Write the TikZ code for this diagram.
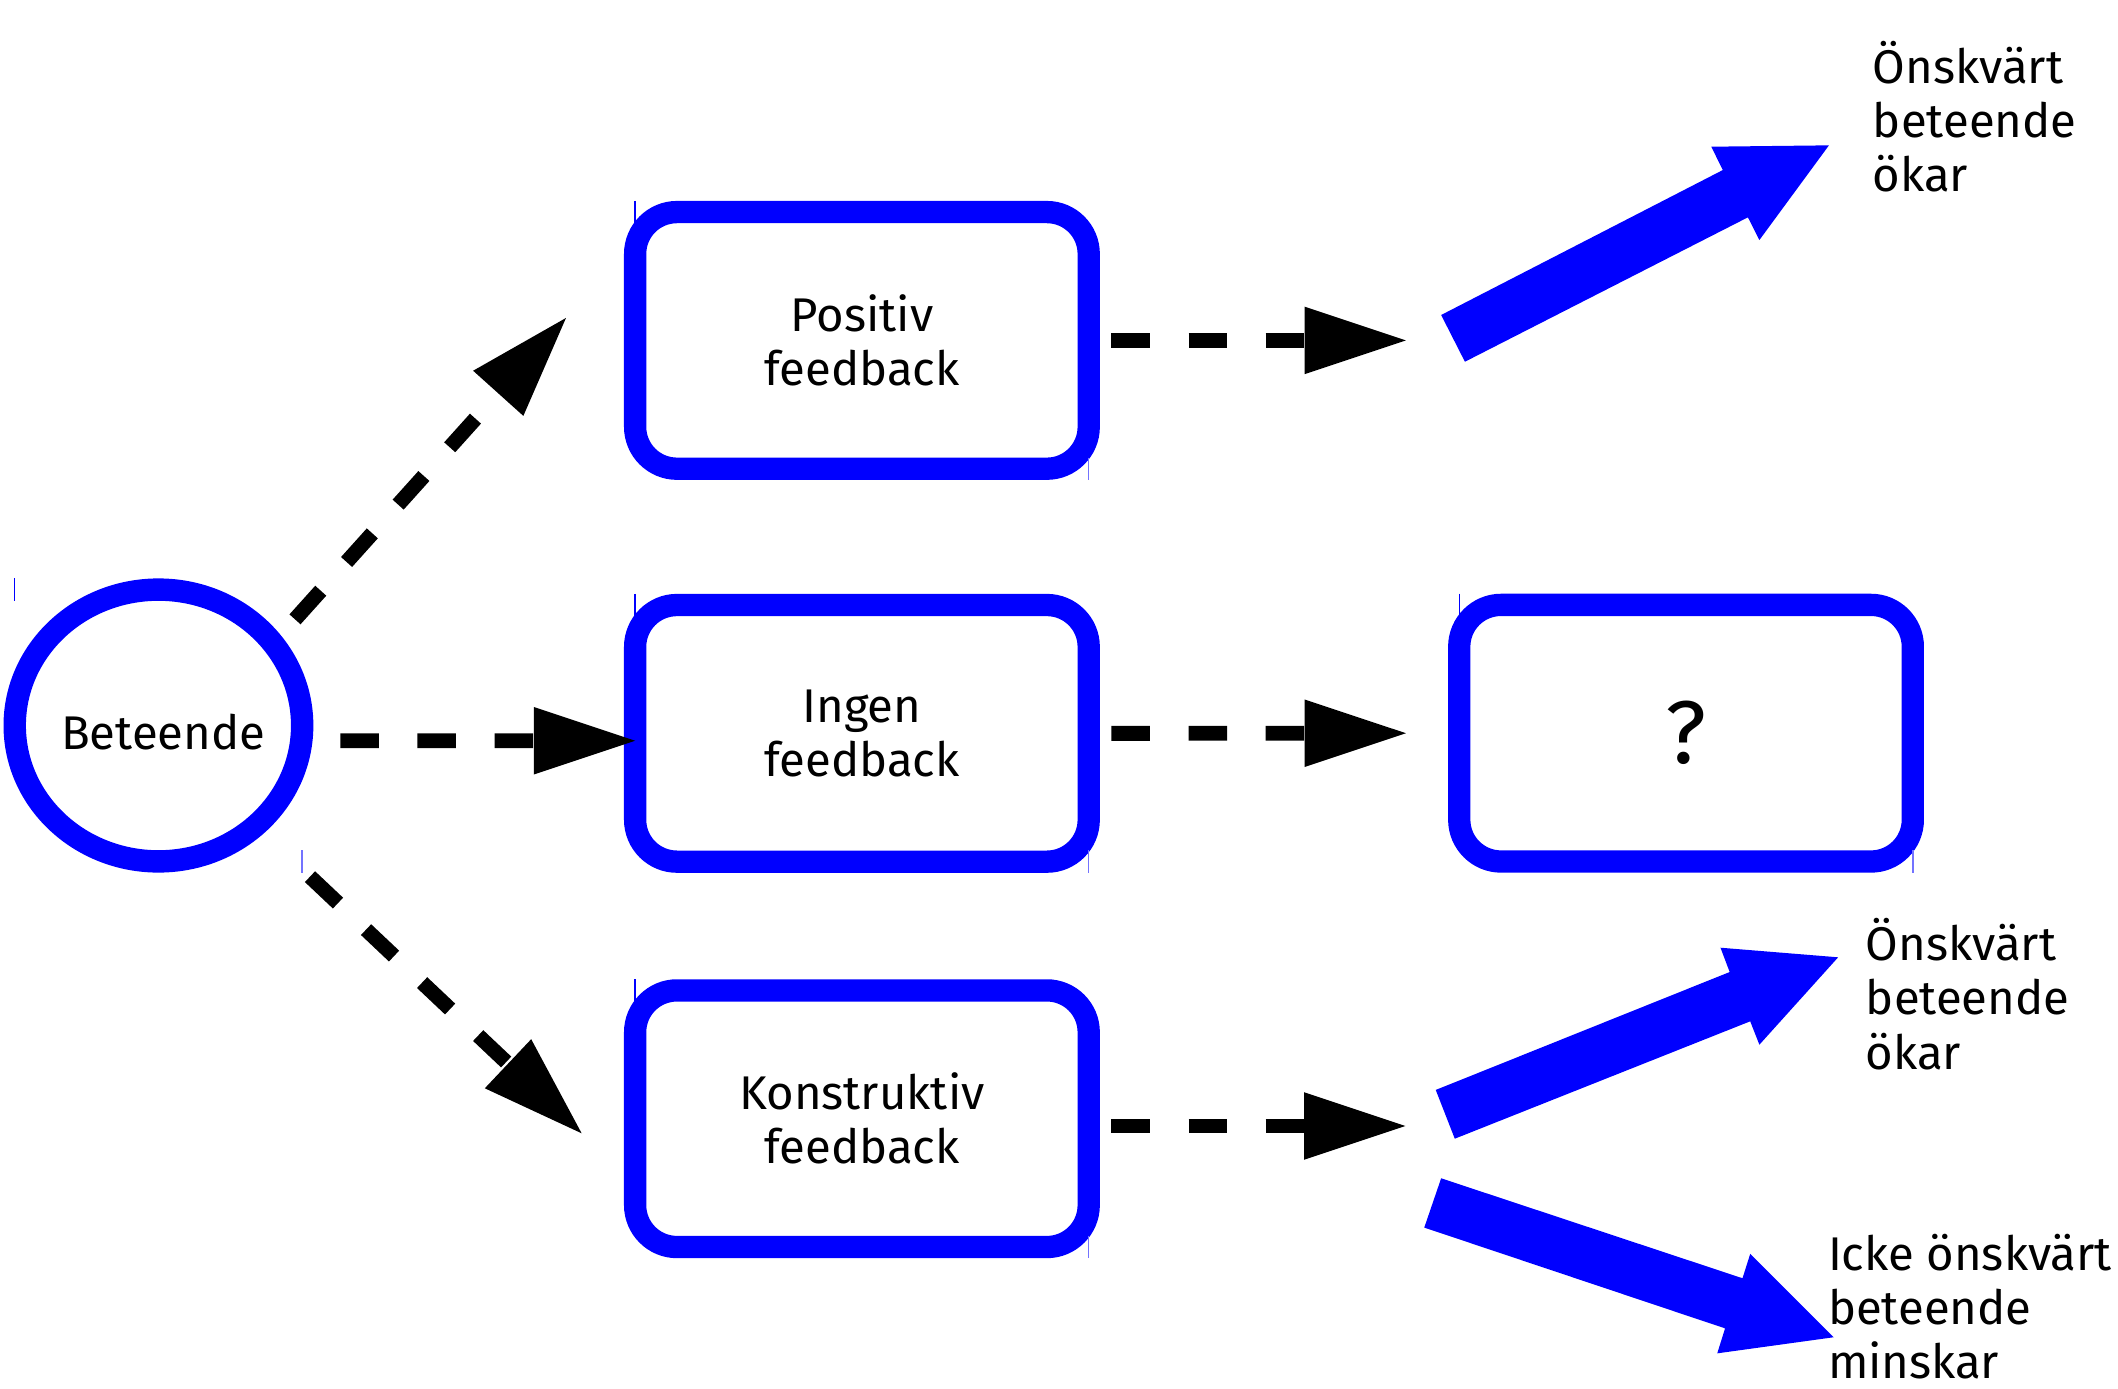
\documentclass[tikz,border=0pt]{standalone}
\usepackage{fontspec}
\setmainfont{Fira Sans}
\usetikzlibrary{arrows.meta,shapes.geometric,calc}
\definecolor{pblue}{RGB}{0,0,255}
\begin{document}
\begin{tikzpicture}[x=1pt,y=-1pt,
  every node/.style={font=\fontsize{35}{40}\selectfont, inner sep=0pt, outer sep=0pt},
  fbbox/.style={draw=pblue, line width=16.5pt, rounded corners=31pt, minimum width=335.8pt, minimum height=190pt, align=center},
  behav/.style={ellipse, draw=pblue, line width=16.6pt, minimum width=212.8pt, minimum height=201.2pt},
  dasharrow/.style={line width=11pt, dash pattern=on 28.5pt off 28.6pt, -{Triangle[length=75pt,width=50pt,line width=0pt]}},
  bigarrow/.style={fill=pblue},
  outlabel/.style={align=left, anchor=base west},
  bbtick/.style={draw=pblue, line width=1pt},
  bbticklight/.style={draw=pblue!55, line width=1pt}
]
\useasboundingbox (0,0) rectangle (1568,1028.3);

% nodes
\node[behav, text height=35.2pt, text depth=0pt] (b) at (117.3,537.1) {\makebox[0pt]{\kern7pt Beteende}};
\node[fbbox] (pos) at (638.1,252) {Positiv\\feedback};
\node[fbbox] (ing) at (638.1,542.9) {Ingen\\feedback};
\node[fbbox] (kon) at (638.1,828.2) {Konstruktiv\\feedback};
\node[fbbox, font=\fontsize{66}{70}\selectfont] (q) at (1248.2,542.8) {?};

% free ends of the dashed connectors
\coordinate (pe) at ($(pos.east)+(234.8,0)$);
\coordinate (ke) at ($(kon.east)+(234.4,5.4)$);

% dashed connectors
\draw[dasharrow] ($(b.center)+(134.6,11.3)$) -- ($(ing.west)+(0,5.5)$);
\draw[dasharrow] ($(b.center)+(101.1,-78.6)$) -- ($(pos.center)+(-219.1,-16.6)$);
\draw[dasharrow] ($(b.center)+(112.2,111.9)$) -- ($(kon.center)+(-207.5,10.8)$);
\draw[dasharrow] ($(pos.east)+(16.8,0)$) -- (pe);
\draw[dasharrow] ($(ing.east)+(16.8,0)$) -- ($(q.west)+(-39.5,0)$);
\draw[dasharrow] ($(kon.east)+(16.8,5.4)$) -- (ke);

% big blue arrows
\fill[bigarrow] (1066.9,233.2) -- (1275.4,125.9) -- (1266.9,108.6) -- (1354,107.6) -- (1302.5,177.7) -- (1294,160.9) -- (1084.5,267.8) -- cycle;
\fill[bigarrow] (1062.9,806.9) -- (1280.5,719.6) -- (1273.7,701.6) -- (1360.8,708.7) -- (1302.5,773.4) -- (1295.7,756.1) -- (1077.0,843.0) -- cycle;
\fill[bigarrow] (1066.9,872.3) -- (1290,946.3) -- (1295.7,928.3) -- (1357.4,990) -- (1271.3,1001.9) -- (1277.1,983.4) -- (1054.4,908.8) -- cycle;

% labels (anchored at the baseline of their last line)
\node[outlabel] (l1) at (1386.6,142) {Önskvärt\\beteende\\ökar};
\node[outlabel] (l2) at (1381.4,791.4) {Önskvärt\\beteende\\ökar};
\node[outlabel] (l3) at (1353.3,1020.4) {Icke önskvärt\\beteende\\minskar};

% small bounding-box ticks
\foreach \n in {b,pos,ing,kon,q}{
  \draw[bbtick] ($(\n.west|-\n.north)+(0,-8.3)$) -- ($(\n.west|-\n.north)+(0,8.3)$);
  \draw[bbticklight] ($(\n.east|-\n.south)+(0,-8.3)$) -- ($(\n.east|-\n.south)+(0,8.3)$);
}
\end{tikzpicture}
\end{document}
